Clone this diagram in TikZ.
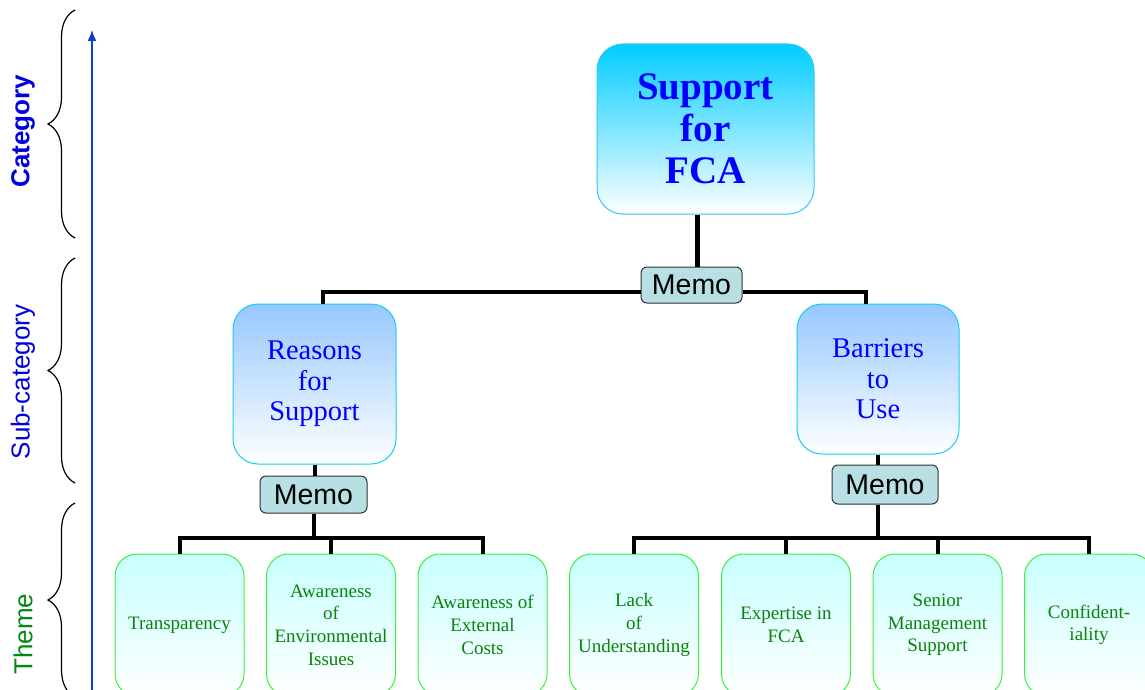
\documentclass[tikz,border=0pt]{standalone}
\usepackage{fontspec}
\setmainfont{Liberation Serif}
\newfontfamily\arialf{Liberation Sans}
\usetikzlibrary{arrows.meta,decorations.pathreplacing,calc}
\definecolor{catblue}{RGB}{0,0,225}
\definecolor{themelab}{RGB}{0,135,20}
\definecolor{boxblue}{RGB}{0,0,255}
\definecolor{themegreen}{RGB}{10,130,10}
\definecolor{topcyan}{RGB}{0,204,255}
\definecolor{topborder}{RGB}{50,200,240}
\definecolor{subblue}{RGB}{150,200,255}
\definecolor{subborder}{RGB}{20,205,240}
\definecolor{themecyan}{RGB}{200,255,255}
\definecolor{themeborder}{RGB}{60,240,60}
\definecolor{memofill}{RGB}{184,224,228}
\definecolor{memoborder}{RGB}{50,50,50}
\definecolor{axisblue}{RGB}{20,60,200}
\begin{document}
\begin{tikzpicture}[x=1pt,y=-1pt,
  topbox/.style={draw=topborder, line width=1pt, rounded corners=26pt, top color=topcyan, bottom color=white,
    minimum width=217pt, minimum height=170pt, inner sep=0pt, align=center, text=boxblue,
    font=\fontsize{39}{42}\selectfont\bfseries},
  subbox/.style={draw=subborder, line width=1pt, rounded corners=25pt, top color=subblue, bottom color=white,
    minimum width=163pt, inner sep=0pt, align=center, text=boxblue,
    font=\fontsize{28.5}{30.5}\selectfont},
  memobox/.style={draw=memoborder, line width=1pt, rounded corners=6pt, fill=memofill, inner sep=0pt,
    minimum width=104pt, minimum height=37pt, font=\arialf\fontsize{28.5}{30}\selectfont},
  themebox/.style={draw=themeborder, line width=1pt, rounded corners=22pt, top color=themecyan, bottom color=white,
    minimum width=129pt, minimum height=142pt, inner sep=0pt, align=center, text=themegreen,
    font=\fontsize{19}{22.7}\selectfont},
  conn/.style={line width=4pt},
  bracestyle/.style={decorate, decoration={brace, amplitude=27pt}, line width=1.2pt},
  sidelab/.style={rotate=90, font=\arialf\fontsize{26}{28}\selectfont},
  axisarrow/.style={draw=axisblue, line width=1.5pt, -{Latex[length=11pt,width=9pt]}}
]
\useasboundingbox (0,0) rectangle (1145,690);
\begin{scope}
\clip (0,0) rectangle (1145,690);

% side labels
\node[sidelab, text=catblue, font=\arialf\fontsize{26}{28}\selectfont\bfseries] (lcat) at (23,131) {Category};
\node[sidelab, text=catblue] (lsub) at (23,382) {Sub-category};
\node[sidelab, text=themelab] (lthm) at (23,634) {Theme};

% braces
\coordinate (b1t) at (75,10);  \coordinate (b1b) at (75,238);
\coordinate (b2t) at (75,258); \coordinate (b2b) at (75,483);
\coordinate (b3t) at (75,503); \coordinate (b3b) at (75,697);
\draw[bracestyle] (b1b) -- (b1t);
\draw[bracestyle] (b2b) -- (b2t);
\draw[bracestyle] (b3b) -- (b3t);

% axis arrow
\coordinate (ab) at (92,692);
\coordinate (at) at (92,30);
\draw[axisarrow] (ab) -- (at);

% boxes
\node[topbox] (top) at (705.5,129) {Support\\for\\FCA};
\node[memobox, minimum width=101pt, minimum height=36pt] (m1) at (691.5,285) {Memo};
\node[subbox, minimum height=160pt] (reasons) at (314.5,384) {Reasons\\for\\Support};
\node[subbox, minimum width=162pt, minimum height=150pt] (barriers) at (878,379) {Barriers\\to\\Use};
\node[memobox, minimum width=107pt] (m2) at (313.5,494.5) {Memo};
\node[memobox, minimum width=106pt, minimum height=39pt] (m3) at (885,484.5) {Memo};

\node[themebox] (t1) at (179.5,625) {Transparency};
\node[themebox] (t2) at (331,625) {Awareness\\of\\Environmental\\Issues};
\node[themebox] (t3) at (482.5,625) {Awareness of\\External\\Costs};
\node[themebox] (t4) at (634,625) {Lack\\of\\Understanding};
\node[themebox] (t5) at (786,625) {Expertise in\\FCA};
\node[themebox] (t6) at (937.5,625) {Senior\\Management\\Support};
\node[themebox] (t7) at (1089,625) {Confident-\\iality};

% connectors
\draw[conn, line width=5pt] ([xshift=-8.5pt]top.south) -- ([xshift=-8.5pt]top.south |- m1.north);
\draw[conn] ([yshift=-7pt]m1.west) -| ([xshift=8.5pt]reasons.north);
\draw[conn] ([yshift=-7pt]m1.east) -| ([xshift=-12pt]barriers.north);

\draw[conn] (reasons.south) -- (reasons.south |- m2.north);
\coordinate (j2) at (314,538);
\draw[conn] (m2.south -| j2) -- (j2);
\draw[conn] (t1.north) |- (j2) -| (t3.north);
\draw[conn] (j2) -| (t2.north);

\draw[conn] (barriers.south) -- (barriers.south |- m3.north);
\coordinate (j3) at (878,538);
\draw[conn] (m3.south -| j3) -- (j3);
\draw[conn] (t4.north) |- (j3) -| (t7.north);
\draw[conn] (j3) -| (t5.north);
\draw[conn] (j3) -| (t6.north);
\end{scope}
\end{tikzpicture}
\end{document}
